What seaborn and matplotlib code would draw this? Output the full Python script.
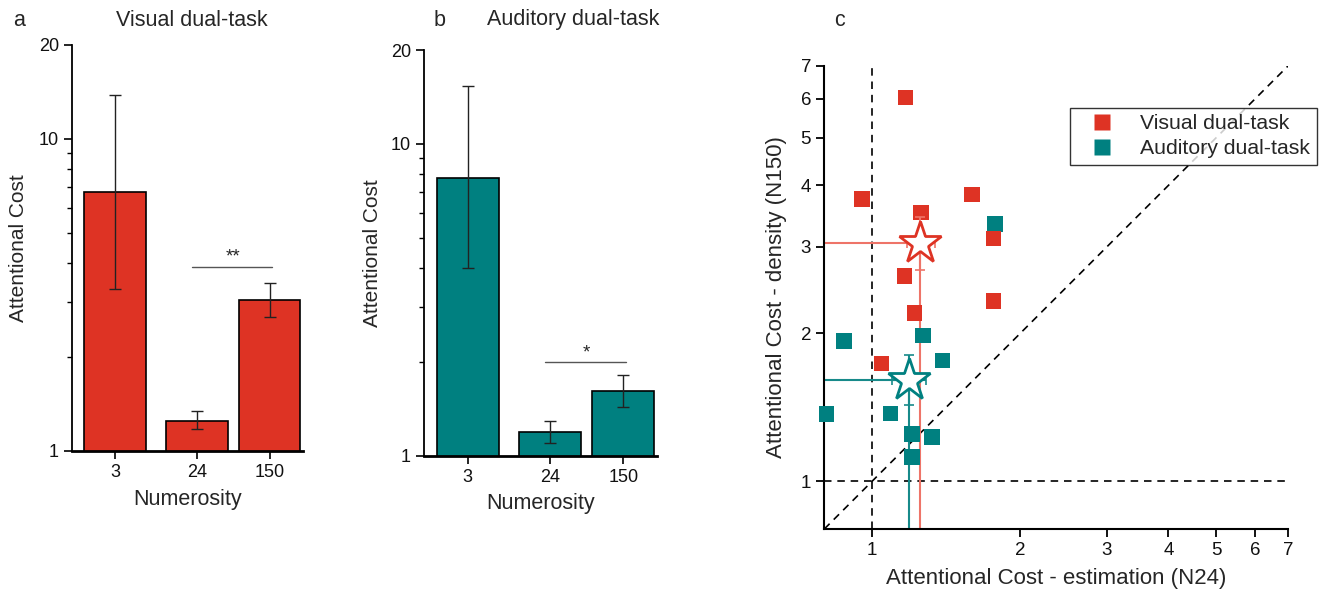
import numpy as np
import pandas as pd
import matplotlib
matplotlib.use("Agg")
import matplotlib.pyplot as plt
import seaborn as sns
from matplotlib.ticker import FixedLocator, NullLocator, FixedFormatter, NullFormatter
from matplotlib.lines import Line2D

# ---------------- data ----------------
categories = ["3", "24", "150"]
visual_mean = [6.75, 1.25, 3.05]
visual_lo = [3.3, 1.18, 2.69]
visual_hi = [13.8, 1.34, 3.45]
auditory_mean = [7.8, 1.19, 1.61]
auditory_lo = [4.0, 1.10, 1.43]
auditory_hi = [15.3, 1.29, 1.81]

visual_n24 = [1.17, 0.954, 1.257, 1.598, 1.764, 1.164, 1.764, 1.22, 1.045]
visual_n150 = [6.04, 3.75, 3.52, 3.83, 3.12, 2.62, 2.33, 2.20, 1.738]
auditory_n24 = [1.778, 0.878, 1.269, 1.39, 0.809, 1.09, 1.207, 1.324, 1.205]
auditory_n150 = [3.34, 1.93, 1.98, 1.76, 1.37, 1.374, 1.25, 1.23, 1.12]

bar_ticks = [1, 10, 20]
scatter_ticks = [1, 2, 3, 4, 5, 6, 7]
series_names = ["Visual dual-task", "Auditory dual-task"]

# ---------------- style ----------------
sns.set_theme(style="ticks")
plt.rcParams['font.family'] = ['Liberation Sans', 'DejaVu Sans']
RED = "#DE3324"
TEAL = "#008080"
RED_LINE = "#EE7468"
TEAL_LINE = "#178A8A"

fig = plt.figure(figsize=(13.31, 5.96), dpi=100)
ax_a = fig.add_axes([0.0541, 0.2433, 0.1736, 0.6812])
ax_b = fig.add_axes([0.3186, 0.2354, 0.1751, 0.6807])
ax_c = fig.add_axes([0.6193, 0.1124, 0.3484, 0.7769])

bar_pos = [0.0, 1.0, 1.89]
bar_w = 0.755


def bar_panel(ax, means, lo, hi, color, sig_text, sig_y, sig_ty, ylab_x):
    ax.set_yscale("log")
    ax.bar(bar_pos, means, width=bar_w, color=color, edgecolor="black",
           linewidth=1.2, bottom=0, zorder=2)
    yerr = np.array([np.array(means) - np.array(lo), np.array(hi) - np.array(means)])
    ax.errorbar(bar_pos, means, yerr=yerr, fmt="none", ecolor="#222222",
                elinewidth=1.0, capsize=4, capthick=1.0, zorder=3)
    ax.set_xlim(-0.53, 2.30)
    ax.set_ylim(1, 20)
    ax.yaxis.set_major_locator(FixedLocator(bar_ticks))
    ax.yaxis.set_major_formatter(FixedFormatter([str(t) for t in bar_ticks]))
    ax.yaxis.set_minor_locator(FixedLocator([2, 3, 4, 5, 6, 7, 8, 9]))
    ax.yaxis.set_minor_formatter(NullFormatter())
    ax.set_xticks(bar_pos)
    ax.set_xticklabels(categories)
    ax.tick_params(axis="both", which="major", labelsize=13, length=6,
                   width=1.2, color="black", labelcolor="#111111")
    ax.tick_params(axis="y", which="minor", length=3.5, width=1.0, color="black")
    for s in ["top", "right"]:
        ax.spines[s].set_visible(False)
    ax.spines["left"].set_linewidth(1.3)
    ax.spines["bottom"].set_linewidth(2.0)
    ax.spines["left"].set_color("black")
    ax.spines["bottom"].set_color("black")
    ax.set_xlabel("Numerosity", fontsize=15.5)
    ax.set_ylabel("Attentional Cost", fontsize=15)
    ax.xaxis.set_label_coords(0.50, -0.093)
    ax.yaxis.set_label_coords(ylab_x, 0.5)
    ax.plot([bar_pos[1] - 0.06, bar_pos[2] + 0.03], [sig_y, sig_y],
            color="#555555", lw=1.0)
    ax.text((bar_pos[1] + bar_pos[2]) / 2, sig_ty, sig_text, ha="center",
            va="center", fontsize=13.5)
    ax.set_facecolor("white")


bar_panel(ax_a, visual_mean, visual_lo, visual_hi, RED, "**", 3.89, 4.2, -0.19)
bar_panel(ax_b, auditory_mean, auditory_lo, auditory_hi, TEAL, "*", 2.0, 2.13, -0.18)

fig.text(19 / 1331, 1 - 21 / 596, "a", fontsize=15.5, ha="center", va="center")
fig.text(192 / 1331, 1 - 20 / 596, "Visual dual-task", fontsize=15.5, ha="center", va="center")
fig.text(440 / 1331, 1 - 21 / 596, "b", fontsize=15.5, ha="center", va="center")
fig.text(573 / 1331, 1 - 20 / 596, "Auditory dual-task", fontsize=15.5, ha="center", va="center")
fig.text(839 / 1331, 1 - 21 / 596, "c", fontsize=15.5, ha="center", va="center")

# ---------------- panel c ----------------
ax = ax_c
ax.set_xscale("log")
ax.set_yscale("log")
lo_lim, hi_lim = 0.8, 7.0
ax.set_xlim(lo_lim, hi_lim)
ax.set_ylim(lo_lim, hi_lim)

dash = (0, (4.5, 3.5))
ax.plot([lo_lim, hi_lim], [lo_lim, hi_lim], color="black", lw=1.2, ls=dash, zorder=1)
ax.axvline(1, color="black", lw=1.2, ls=dash, zorder=1)
ax.axhline(1, color="black", lw=1.2, ls=dash, zorder=1)

# drop lines to mean stars
for mean, lc in [(visual_mean, RED_LINE), (auditory_mean, TEAL_LINE)]:
    mx, my = mean[1], mean[2]
    ax.plot([mx, mx], [lo_lim, my], color=lc, lw=1.5, zorder=2)
    ax.plot([lo_lim, mx], [my, my], color=lc, lw=1.5, zorder=2)

df_a = pd.DataFrame({"n24": auditory_n24, "n150": auditory_n150})
df_v = pd.DataFrame({"n24": visual_n24, "n150": visual_n150})
sns.scatterplot(data=df_a, x="n24", y="n150", ax=ax, marker="s", s=125,
                color=TEAL, edgecolor="none", linewidth=0, zorder=3, clip_on=False)
sns.scatterplot(data=df_v, x="n24", y="n150", ax=ax, marker="s", s=125,
                color=RED, edgecolor="none", linewidth=0, zorder=4, clip_on=False)

for mean, lo, hi, lc, mc in [(auditory_mean, auditory_lo, auditory_hi, TEAL_LINE, TEAL),
                             (visual_mean, visual_lo, visual_hi, RED_LINE, RED)]:
    mx, my = mean[1], mean[2]
    ax.errorbar([mx], [my],
                xerr=[[mx - lo[1]], [hi[1] - mx]],
                yerr=[[my - lo[2]], [hi[2] - my]],
                fmt="none", ecolor=lc, elinewidth=1.5, capsize=3.5, capthick=1.2,
                zorder=5)
    ax.plot([mx], [my], marker="*", ms=32, mfc="white", mec=mc, mew=2.0,
            ls="none", zorder=6)

ax.xaxis.set_major_locator(FixedLocator(scatter_ticks))
ax.yaxis.set_major_locator(FixedLocator(scatter_ticks))
ax.xaxis.set_major_formatter(FixedFormatter([str(t) for t in scatter_ticks]))
ax.yaxis.set_major_formatter(FixedFormatter([str(t) for t in scatter_ticks]))
ax.xaxis.set_minor_locator(NullLocator())
ax.yaxis.set_minor_locator(NullLocator())
ax.tick_params(axis="both", which="major", labelsize=13.5, length=6, width=1.3,
               color="black", labelcolor="#111111")
for s in ["top", "right"]:
    ax.spines[s].set_visible(False)
for s in ["left", "bottom"]:
    ax.spines[s].set_linewidth(1.5)
    ax.spines[s].set_color("black")
ax.set_xlabel("Attentional Cost - estimation (N24)", fontsize=16)
ax.set_ylabel("Attentional Cost - density (N150)", fontsize=16)
ax.xaxis.set_label_coords(0.5, -0.085)
ax.yaxis.set_label_coords(-0.08, 0.5)
ax.set_facecolor("white")

handles = [Line2D([], [], marker="s", ls="none", ms=11, mfc=RED, mec="none"),
           Line2D([], [], marker="s", ls="none", ms=11, mfc=TEAL, mec="none")]
leg = ax.legend(handles, series_names, loc="upper left", bbox_to_anchor=(0.53, 0.91),
                fontsize=15.3, frameon=True, fancybox=False, borderpad=0.3,
                handletextpad=0.6, labelspacing=0.3, handlelength=2.4,
                borderaxespad=0)
leg.get_frame().set_edgecolor("black")
leg.get_frame().set_linewidth(1.0)

fig.savefig("out.png", dpi=100, facecolor="white")
